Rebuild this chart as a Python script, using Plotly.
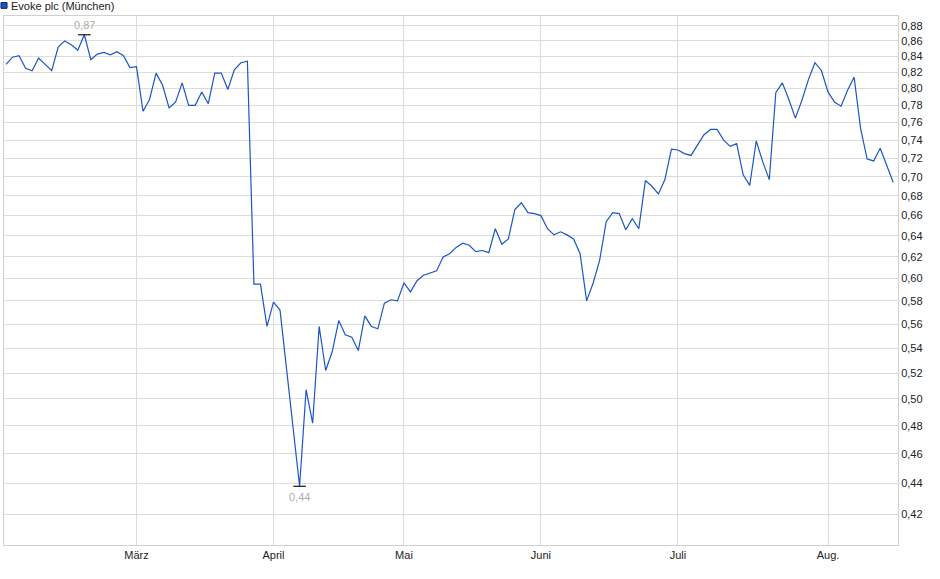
import math
import pandas as pd
import plotly.graph_objects as go

# ---- data ----
series_name = "Evoke plc (München)"
holidays = ["2025-04-18", "2025-04-21", "2025-05-01"]
trading_days = [d.strftime("%Y-%m-%d") for d in pd.bdate_range("2025-02-03", "2025-08-15")
                if d.strftime("%Y-%m-%d") not in holidays]

prices = [
    # Feb
    0.830, 0.839, 0.841, 0.825, 0.822, 0.838, 0.830, 0.822, 0.852, 0.860,
    0.855, 0.848, 0.868, 0.836, 0.843, 0.845, 0.842, 0.846, 0.841, 0.826,
    # March
    0.827, 0.773, 0.787, 0.819, 0.804, 0.777, 0.784, 0.807, 0.780, 0.780,
    0.796, 0.782, 0.819, 0.819, 0.799, 0.823, 0.832, 0.834, 0.595, 0.595,
    0.558,
    # April
    0.579, 0.572, 0.522, 0.481, 0.438, 0.507, 0.482, 0.558, 0.522, 0.537,
    0.563, 0.551, 0.549, 0.538, 0.567, 0.558, 0.556, 0.578, 0.581, 0.580,
    # May
    0.596, 0.588, 0.598, 0.603, 0.605, 0.607, 0.620, 0.623, 0.629, 0.633,
    0.631, 0.625, 0.626, 0.624, 0.647, 0.632, 0.637, 0.666, 0.673, 0.663,
    0.662,
    # June
    0.660, 0.647, 0.641, 0.644, 0.641, 0.637, 0.623, 0.580, 0.596, 0.617,
    0.654, 0.663, 0.662, 0.646, 0.657, 0.647, 0.696, 0.690, 0.682, 0.697,
    0.730,
    # July
    0.729, 0.725, 0.723, 0.735, 0.746, 0.752, 0.752, 0.740, 0.733, 0.736,
    0.702, 0.691, 0.739, 0.716, 0.697, 0.795, 0.807, 0.787, 0.765, 0.786,
    0.811, 0.832, 0.822,
    # Aug
    0.796, 0.784, 0.779, 0.798, 0.814, 0.753, 0.719, 0.717, 0.731, 0.712,
    0.694,
]

month_ticks = ["2025-03-03", "2025-04-01", "2025-05-02", "2025-06-02", "2025-07-01", "2025-08-01"]
month_labels = ["März", "April", "Mai", "Juni", "Juli", "Aug."]

y_tick_values = [0.42, 0.44, 0.46, 0.48, 0.50, 0.52, 0.54, 0.56, 0.58, 0.60, 0.62, 0.64,
                 0.66, 0.68, 0.70, 0.72, 0.74, 0.76, 0.78, 0.80, 0.82, 0.84, 0.86, 0.88]
y_tick_labels = [f"{v:.2f}".replace(".", ",") for v in y_tick_values]

# ---- figure ----
LINE = "#1c56c4"
GRID = "#dcdcdc"
FONT = "Liberation Sans, Arial, sans-serif"
NOTE = "#b3aba2"

i_max = max(range(len(prices)), key=lambda i: prices[i])
i_min = min(range(len(prices)), key=lambda i: prices[i])

fig = go.Figure()
fig.add_trace(go.Scatter(
    x=trading_days, y=prices, mode="lines",
    line=dict(color=LINE, width=1.2), showlegend=False, hoverinfo="x+y",
))
fig.add_trace(go.Scatter(
    x=[trading_days[i_max], trading_days[i_min]],
    y=[prices[i_max], prices[i_min]],
    mode="markers",
    marker=dict(symbol="line-ew", size=9, line=dict(color="#111111", width=1.2)),
    showlegend=False, hoverinfo="skip",
))

# annotations on a log axis take log10 positions
fig.add_annotation(x=trading_days[i_max], y=math.log10(prices[i_max]),
                   text=f"{prices[i_max]:.2f}".replace(".", ","),
                   showarrow=False, yshift=10,
                   font=dict(family=FONT, size=11, color=NOTE))
fig.add_annotation(x=trading_days[i_min], y=math.log10(prices[i_min]),
                   text=f"{prices[i_min]:.2f}".replace(".", ","),
                   showarrow=False, yshift=-11,
                   font=dict(family=FONT, size=11, color=NOTE))

# legend (square + label)
fig.add_shape(type="rect", xref="paper", yref="paper",
              x0=-0.0034, x1=0.0034, y0=1.0145, y1=1.0255,
              fillcolor="#1a50bf", line=dict(color="#0d2a6b", width=1))
fig.add_annotation(xref="paper", yref="paper", x=0.0058, y=1.0185,
                   xanchor="left", yanchor="middle", showarrow=False,
                   text=series_name,
                   font=dict(family=FONT, size=11, color="#222222"))

fig.update_layout(
    width=940, height=579,
    margin=dict(l=4, r=42, t=16, b=34),
    paper_bgcolor="white", plot_bgcolor="white",
    font=dict(family=FONT, size=11, color="#222222"),
    showlegend=False,
    separators=",.",
    hovermode="x",
)
fig.update_xaxes(
    type="category",
    range=[-0.31, 136.73],
    tickmode="array", tickvals=month_ticks, ticktext=month_labels,
    showgrid=True, gridcolor=GRID, gridwidth=1,
    showline=True, linecolor="#d0d0d0", linewidth=1, mirror=True,
    ticks="", zeroline=False,
    tickfont=dict(family=FONT, size=11, color="#222222"),
)
fig.update_yaxes(
    type="log", side="right",
    range=[-0.397146, -0.049135],
    tickmode="array", tickvals=y_tick_values, ticktext=y_tick_labels,
    showgrid=True, gridcolor=GRID, gridwidth=1,
    showline=True, linecolor="#d0d0d0", linewidth=1, mirror=True,
    ticks="", zeroline=False,
    tickfont=dict(family=FONT, size=11, color="#222222"),
)

fig.write_html("out.html", config={"displayModeBar": False},
               post_script="document.body.style.margin='0';document.body.style.overflow='hidden';")
